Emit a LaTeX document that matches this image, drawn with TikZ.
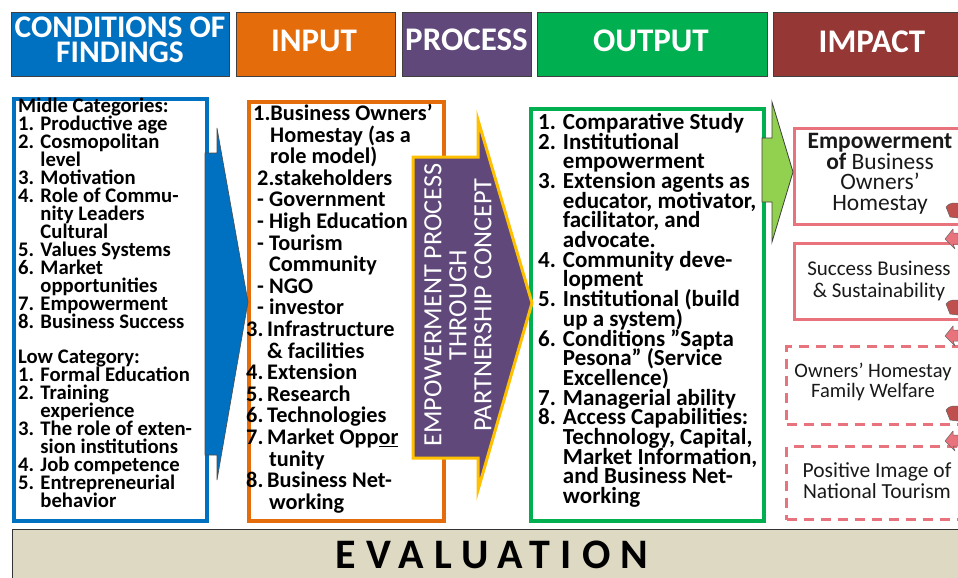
\documentclass[tikz,border=0pt]{standalone}
\usepackage{fontspec}
\setmainfont{Carlito}
\definecolor{cblue}{RGB}{0,112,192}
\definecolor{corange}{RGB}{228,108,10}
\definecolor{cpurple}{RGB}{96,73,122}
\definecolor{cgreen}{RGB}{0,176,80}
\definecolor{cred}{RGB}{149,55,53}
\definecolor{cpink}{RGB}{232,115,125}
\definecolor{cgold}{RGB}{255,192,0}
\definecolor{clgreen}{RGB}{146,208,80}
\definecolor{cbeige}{RGB}{221,217,195}
\definecolor{cdred}{RGB}{192,80,77}
\newcommand\hind{\hphantom{1. }}
\newcommand\odash{\hspace*{11pt}\makebox[12pt][l]{-}}
\begin{document}
\lineskiplimit=-100pt\relax
\lineskip=0pt\relax
\begin{tikzpicture}[x=1pt,y=-1pt,
  hdr/.style={draw=black!75, line width=0.8pt, inner sep=0pt},
  hdrtxt/.style={text=white, align=center, inner sep=0pt,
    font=\bfseries\fontsize{33}{25}\selectfont},
  frame/.style={line width=3.5pt, anchor=north west, inner sep=0pt},
  listtxt/.style={anchor=north west, align=left, inner sep=0pt},
  imptxt/.style={align=center, inner sep=0pt, text=black!90},
  dsh/.style={dash pattern=on 10pt off 7pt},
  smallarr/.style={draw=black!60, line width=0.5pt, line join=round},
]
\useasboundingbox (0,0) rectangle (958,578);
% headers
\node[hdr, fill=cblue, minimum width=218pt, minimum height=64pt] (hcond) at (120,44) {};
\node[hdr, fill=corange, minimum width=159pt, minimum height=64pt] (hinput) at (315.5,44) {};
\node[hdr, fill=cpurple, minimum width=129pt, minimum height=64pt] (hproc) at (466.5,44) {};
\node[hdr, fill=cgreen, minimum width=230pt, minimum height=64pt] (hout) at (652,44) {};
\node[hdr, fill=cred, minimum width=197pt, minimum height=64pt] (himp) at (871.5,44) {};
\node[hdrtxt, font=\bfseries\fontsize{31.5}{25}\selectfont] (hcondt) at (120,40) {CONDITIONS OF\\FINDINGS};
\node[hdrtxt] (hinputt) at (314,41) {INPUT};
\node[hdrtxt] (hproct) at (466.5,40) {PROCESS};
\node[hdrtxt] (houtt) at (651,41) {OUTPUT};
\node[hdrtxt] (himpt) at (872,42) {IMPACT};
% content frames
\node[frame, draw=cblue, minimum width=193pt, minimum height=422pt] (fcond) at (12,97) {};
\node[frame, draw=corange, minimum width=195pt, minimum height=419pt] (finput) at (247,100) {};
\node[frame, draw=cgreen, minimum width=233pt, minimum height=412pt] (fout) at (529,107) {};
% list texts
\node[listtxt, font=\bfseries\fontsize{20.7}{18}\selectfont] (tcond) at (18,98) {%
Midle Categories:\\
1. Productive age\\
2. Cosmopolitan\\
\hind level\\
3. Motivation\\
4. Role of Commu-\\
\hind nity Leaders\\
\hind Cultural\\
5. Values Systems\\
6. Market\\
\hind opportunities\\
7. Empowerment\\
8. Business Success\\[17pt]
Low Category:\\
1. Formal Education\\
2. Training\\
\hind experience\\
3. The role of exten-\\
\hind sion institutions\\
4. Job competence\\
5. Entrepreneurial\\
\hind behavior};
\node[listtxt, font=\bfseries\fontsize{22.3}{21.6}\selectfont] (tinput) at (246,104) {%
\hspace*{7pt}1.Business Owners’\\
\hspace*{24pt}Homestay (as a\\
\hspace*{24pt}role model)\\
\hspace*{11pt}2.stakeholders\\
\odash Government\\
\odash High Education\\
\odash Tourism\\
\hspace*{23pt}Community\\
\odash NGO\\
\odash investor\\
3.\,Infrastructure\\
\hspace*{21pt}\& facilities\\
4.\,Extension\\
5.\,Research\\
6.\,Technologies\\
7.\,Market Opp\underline{or}\\
\hspace*{23pt}tunity\\
8.\,Business Net-\\
\hspace*{23pt}working};
\node[listtxt, font=\bfseries\fontsize{23}{19.7}\selectfont] (tout) at (538,113) {%
1. Comparative Study\\
2. Institutional\\
\hind empowerment\\
3. Extension agents as\\
\hind educator, motivator,\\
\hind facilitator, and\\
\hind advocate.\\
4. Community deve-\\
\hind lopment\\
5. Institutional (build\\
\hind up a system)\\
6. Conditions "Sapta\\
\hind Pesona" (Service\\
\hind Excellence)\\
7. Managerial ability\\
8. Access Capabilities:\\
\hind Technology, Capital,\\
\hind Market Information,\\
\hind and Business Net-\\
\hind working};
% impact boxes
\node[frame, draw=cpink, line width=3pt, minimum width=185pt, minimum height=96pt] (imp1) at (793,127) {};
\node[frame, draw=cpink, line width=3pt, minimum width=185pt, minimum height=76pt] (imp2) at (793,242) {};
\node[frame, draw=cpink, line width=3pt, dsh, minimum width=193pt, minimum height=78pt] (imp3) at (785,345) {};
\node[frame, draw=cpink, line width=3pt, dsh, minimum width=193pt, minimum height=73pt] (imp4) at (785,445) {};
\node[imptxt, font=\fontsize{23.5}{20.5}\selectfont] (timp1) at (880,174) {\textbf{Empowerment}\\\textbf{of} Business\\Owners’\\Homestay};
\node[imptxt, font=\fontsize{21}{22}\selectfont] (timp2) at (879,281) {Success Business\\\& Sustainability};
\node[imptxt, font=\fontsize{20.5}{20.5}\selectfont] (timp3) at (873,382) {Owners’ Homestay\\Family Welfare};
\node[imptxt, font=\fontsize{21.5}{21}\selectfont] (timp4) at (877,481) {Positive Image of\\National Tourism};
% block arrows
\fill[cblue, draw=black!70, line width=0.6pt] (205,153) -- (217,153) -- (217,128) -- (248,302) -- (217,480) -- (217,455) -- (205,455) -- cycle;
\draw[cgold, line width=3pt, fill=cpurple, line join=miter] (413,157) -- (478,157) -- (478,120) -- (532,303) -- (478,490) -- (478,458) -- (413,458) -- cycle;
\node[rotate=90, align=center, text=white, inner sep=0pt, font=\fontsize{26.3}{25}\selectfont] (tproc) at (458,305) {EMPOWERMENT PROCESS\\THROUGH\\PARTNERSHIP CONCEPT};
\draw[black!75, line width=0.8pt, fill=clgreen] (762,138) -- (772,138) -- (772,102) -- (793,172) -- (772,242) -- (772,202) -- (762,202) -- cycle;
% small curved arrows at the right edge
\foreach \a/\b in {203/229, 300/326, 406/431}{
  \draw[smallarr, fill=cdred] (946,\a+4) .. controls (949,\a+1) .. (953,\a) -- (958,\a) -- (958,\a+15) -- (950,\a+14) -- cycle;
  \draw[smallarr, fill=cpink] (945,\b+10) -- (953,\b) -- (953,\b+4) -- (958,\b+4) -- (958,\b+15) -- (953,\b+15) -- (955,\b+20) -- cycle;
}
% evaluation
\node[frame, draw=black!80, line width=1.2pt, fill=cbeige, minimum width=963pt, minimum height=60pt] (feval) at (12,529) {};
\node[inner sep=0pt, font=\bfseries\fontsize{42}{42}\selectfont\addfontfeature{LetterSpace=24}] (teval) at (492,555) {EVALUATION};
\end{tikzpicture}
\end{document}
